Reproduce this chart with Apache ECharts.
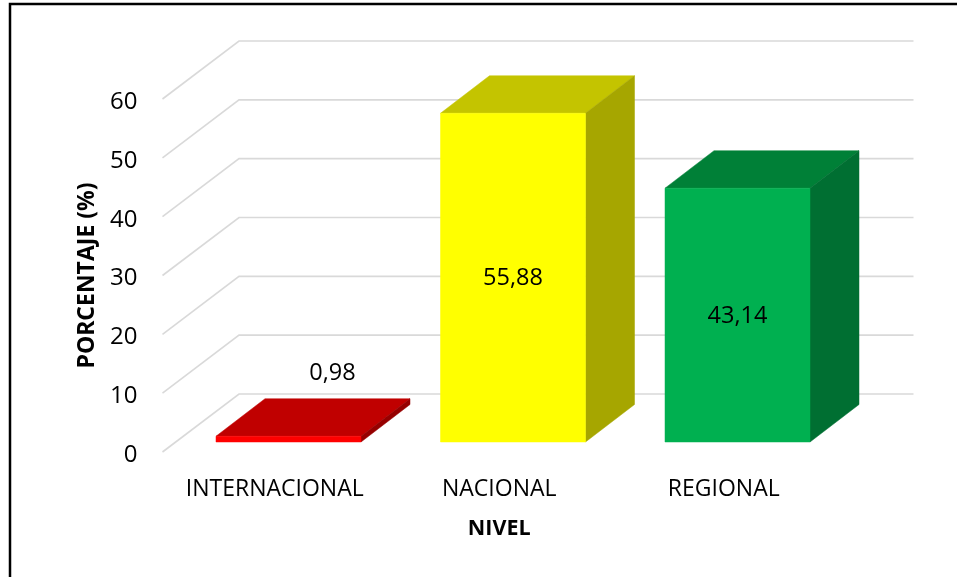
<!DOCTYPE html>
<html>
<head>
<meta charset="utf-8">
<style>html,body{margin:0;padding:0;background:#fff}#c{width:957px;height:577px}</style>
<script src="https://cdn.jsdelivr.net/npm/echarts@6/dist/echarts.min.js"></script>
</head>
<body>
<div id="c"></div>
<script>
const categories = ['INTERNACIONAL', 'NACIONAL', 'REGIONAL'];
const values = [0.98, 55.88, 43.14];
const wallTicks = [0, 10, 20, 30, 40, 50, 60];
const frontColors = ['#FF0000', '#FFFF00', '#00B050'];
const topColors = ['#C00000', '#C4C400', '#008037'];
const sideColors = ['#960000', '#A6A600', '#006F32'];

const FONT = '"Open Sans"';
const DEPTH_X = 76.5, DEPTH_Y = 58;
const BAR_DX = 13.75, BAR_DY = 10, BAR_W = 145, BAR_DEPTH_X = 49, BAR_DEPTH_Y = 37.5;

function poly(points, fill) {
  return { type: 'polygon', shape: { points }, style: { fill, stroke: fill, lineWidth: 0.5 } };
}

function renderWall(params, api) {
  const cs = params.coordSys;
  const y = api.coord([0, api.value(0)])[1];
  const x0 = cs.x, x1 = cs.x + DEPTH_X, x2 = cs.x + cs.width + DEPTH_X + 1;
  return {
    type: 'polyline',
    silent: true,
    shape: { points: [[x0, y], [x1, y - DEPTH_Y], [x2, y - DEPTH_Y]] },
    style: { stroke: '#D9D9D9', lineWidth: 1.6, fill: null }
  };
}

function renderBar(params, api) {
  const i = params.dataIndex;
  const v = api.value(1);
  const base = api.coord([i, 0]);
  const head = api.coord([i, v]);
  const l = base[0] - BAR_W / 2 + BAR_DX, r = l + BAR_W;
  const b = base[1] - BAR_DY, t = head[1] - BAR_DY;
  const dx = BAR_DEPTH_X, dy = BAR_DEPTH_Y;
  const txt = String(v).replace('.', ',');
  const tall = v > 5;
  return {
    type: 'group',
    children: [
      poly([[l, t], [l + dx, t - dy], [r + dx, t - dy], [r, t]], topColors[i]),
      poly([[r, t], [r + dx, t - dy], [r + dx, b - dy], [r, b]], sideColors[i]),
      poly([[l, t], [r, t], [r, b], [l, b]], frontColors[i]),
      {
        type: 'text',
        z2: 10,
        style: {
          text: txt,
          x: tall ? (l + r) / 2 : (l + r) / 2 + 44,
          y: tall ? (t + b) / 2 + 1 : t - 63,
          align: 'center',
          verticalAlign: 'middle',
          fontFamily: FONT,
          fontSize: 23.5,
          fill: '#000'
        }
      }
    ]
  };
}

const chart = echarts.init(document.getElementById('c'), null, { renderer: 'canvas' });
chart.setOption({
  animation: false,
  backgroundColor: '#fff',
  grid: { left: 162.5, top: 99, width: 673.5, height: 353 },
  graphic: [{
    type: 'polyline',
    silent: true,
    shape: { points: [[10, 577], [10, 4], [957, 4]] },
    style: { stroke: '#000', lineWidth: 2.5, fill: null }
  }],
  xAxis: {
    type: 'category',
    data: categories,
    axisLine: { show: false },
    axisTick: { show: false },
    axisLabel: { margin: 25.5, fontFamily: FONT, fontSize: 23, color: '#000', interval: 0 },
    name: 'NIVEL',
    nameLocation: 'middle',
    nameGap: 66,
    nameTextStyle: { fontFamily: FONT, fontSize: 21.5, fontWeight: 'bold', color: '#000' }
  },
  yAxis: {
    type: 'value',
    min: 0,
    max: 60,
    interval: 10,
    axisLine: { show: false },
    axisTick: { show: false },
    splitLine: { show: false },
    axisLabel: {
      margin: 25,
      formatter: '{t|{value}}',
      rich: { t: { padding: [6, 0, 0, 0], fontFamily: FONT, fontSize: 24, color: '#000' } }
    },
    name: 'PORCENTAJE (%)',
    nameLocation: 'middle',
    nameGap: 64,
    nameTextStyle: { fontFamily: FONT, fontSize: 23, fontWeight: 'bold', color: '#000' }
  },
  series: [
    {
      type: 'custom',
      name: 'wall',
      z: 1,
      silent: true,
      clip: false,
      renderItem: renderWall,
      encode: { y: 0 },
      data: wallTicks.map(v => [v])
    },
    {
      type: 'custom',
      name: 'PORCENTAJE',
      z: 2,
      clip: false,
      renderItem: renderBar,
      encode: { x: 0, y: 1 },
      data: values.map((v, i) => [i, v])
    }
  ]
});
</script>
</body>
</html>
